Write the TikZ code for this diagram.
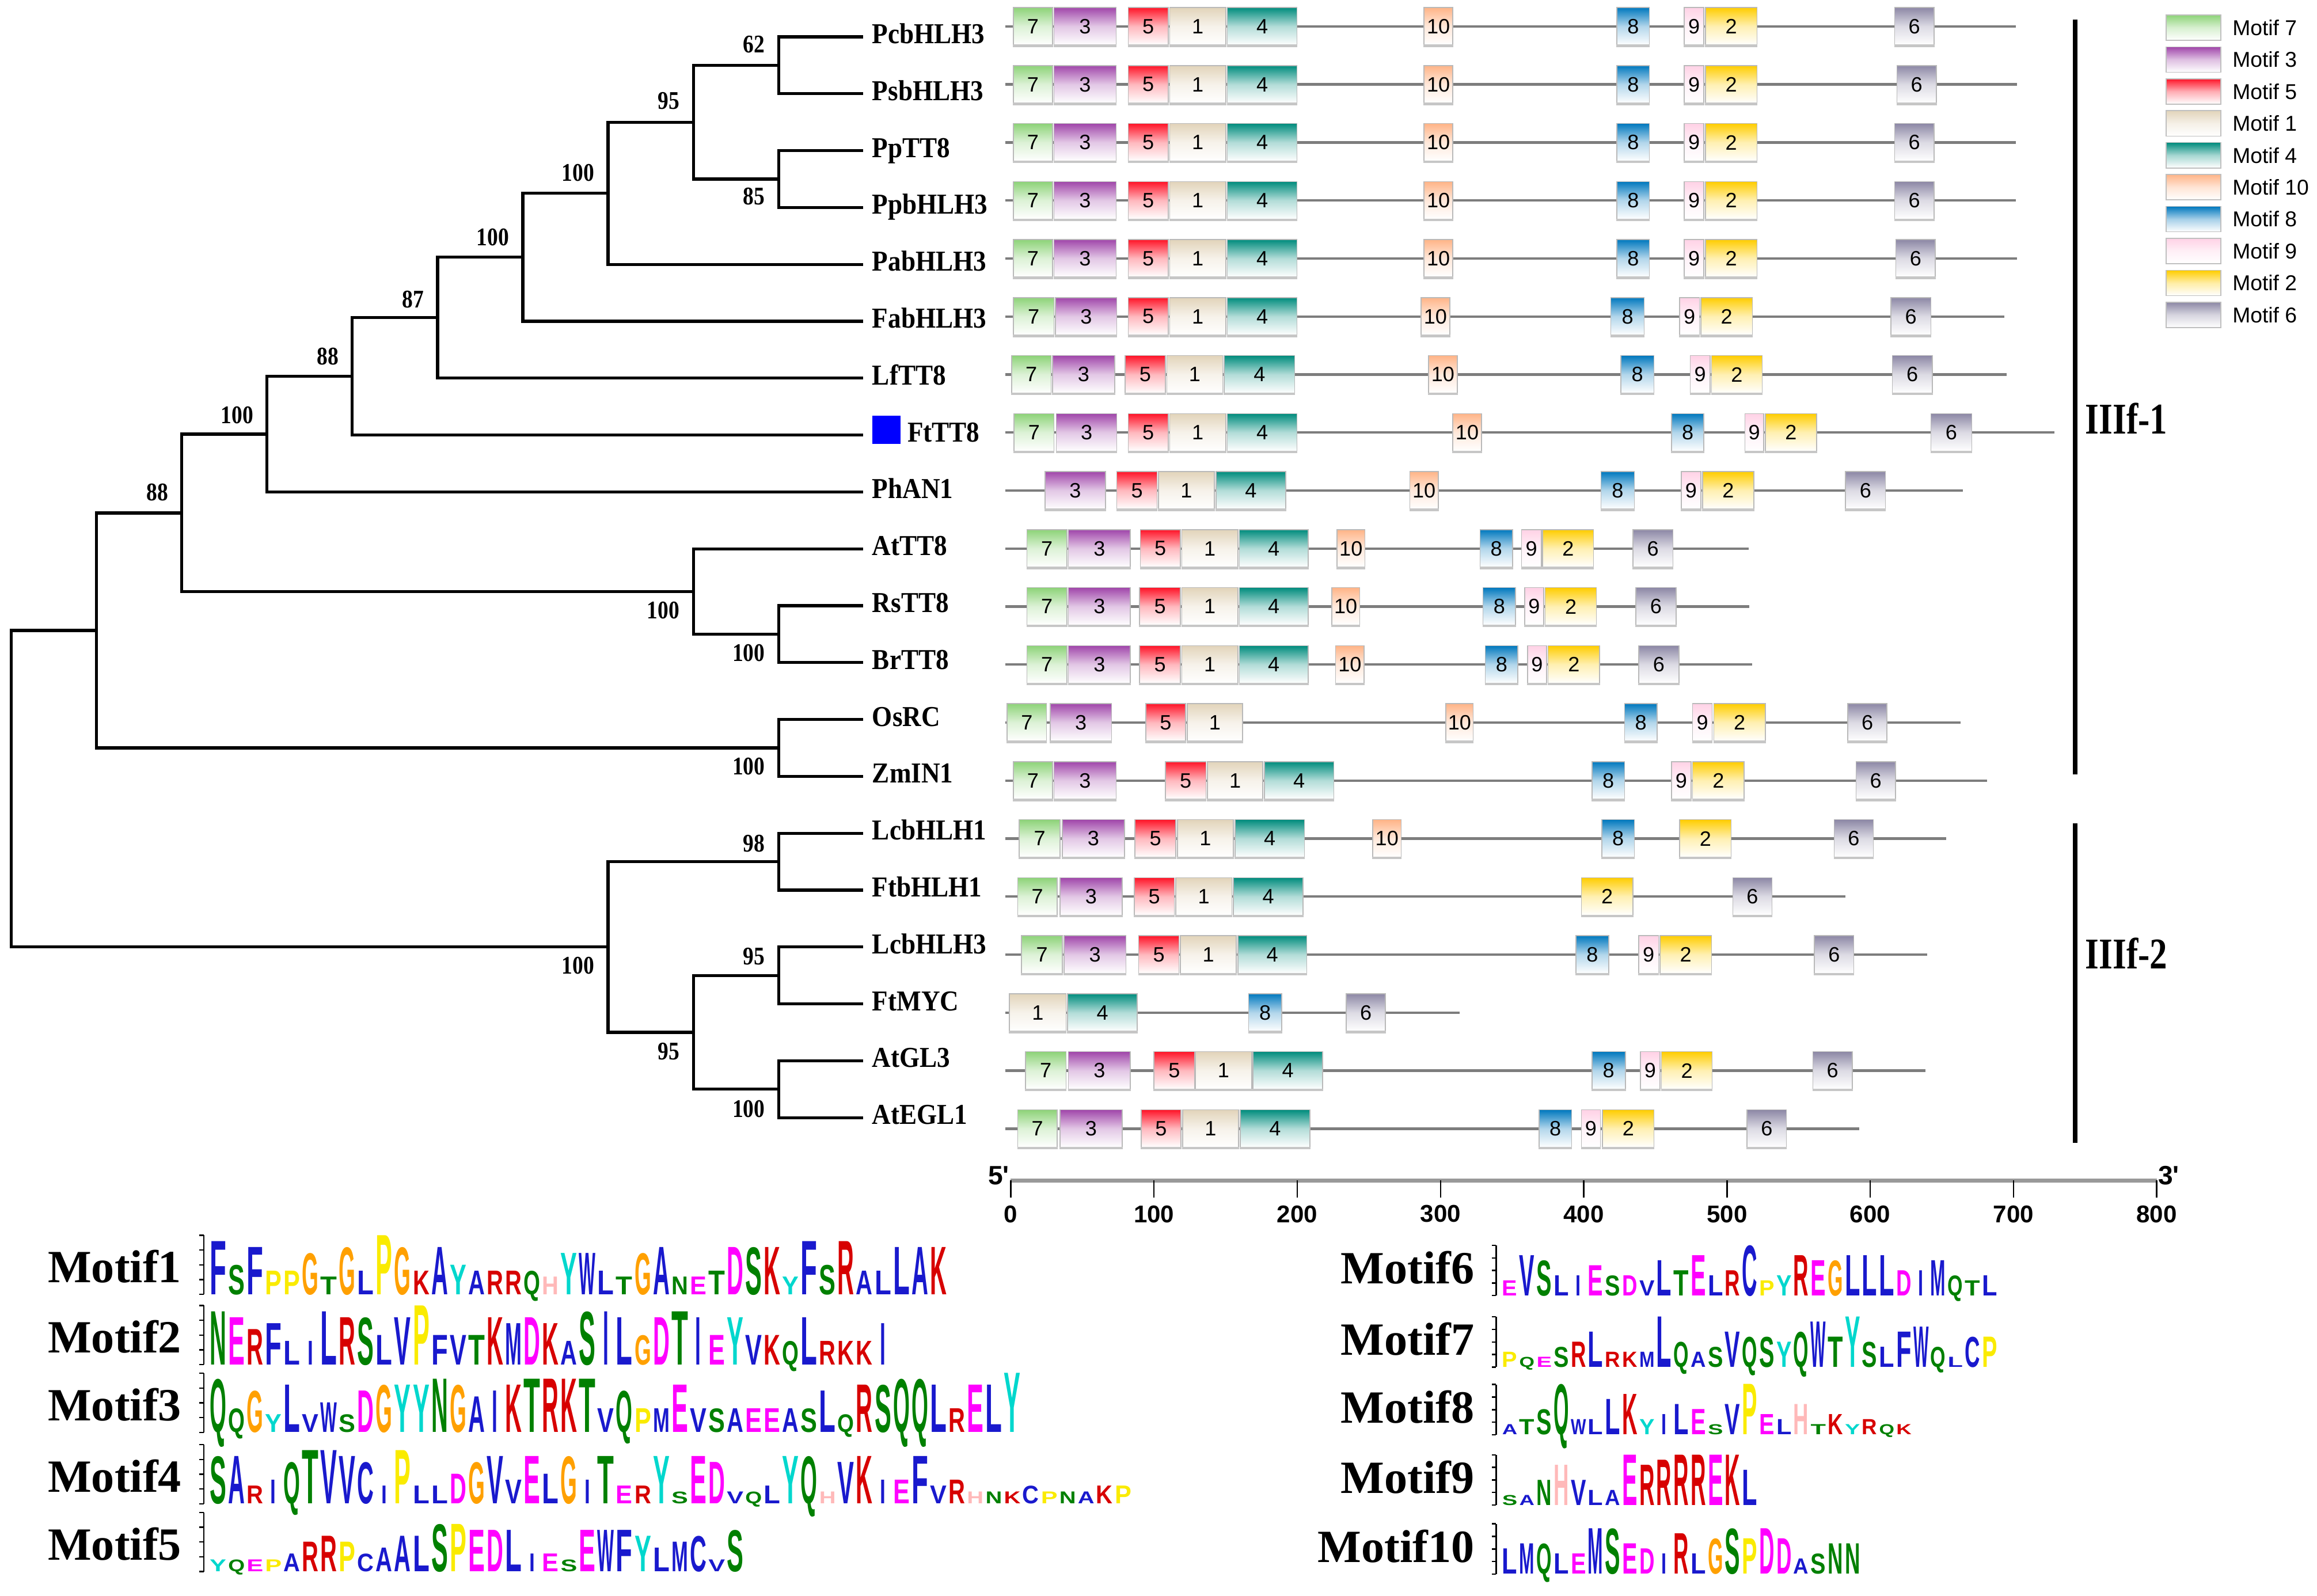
\documentclass[tikz,border=0pt]{standalone}
\usepackage{fontspec}
\setmainfont{Liberation Serif}
\newfontfamily\arialf{Liberation Sans}
\usepackage{graphicx}

% motif colours
\definecolor{mc7}{RGB}{141,211,120}
\definecolor{mc3}{RGB}{160,70,170}
\definecolor{mc5}{RGB}{255,20,40}
\definecolor{mc1}{RGB}{226,212,186}
\definecolor{mc4}{RGB}{0,140,125}
\definecolor{mc10}{RGB}{255,180,135}
\definecolor{mc8}{RGB}{0,120,190}
\definecolor{mc9}{RGB}{255,210,230}
\definecolor{mc2}{RGB}{255,205,0}
\definecolor{mc6}{RGB}{140,135,165}
\definecolor{bbgray}{RGB}{125,125,125}
% logo colours
\definecolor{lgblue}{RGB}{25,25,205}
\definecolor{lggreen}{RGB}{0,128,0}
\definecolor{lgmag}{RGB}{255,0,255}
\definecolor{lgred}{RGB}{215,0,0}
\definecolor{lgpink}{RGB}{255,185,185}
\definecolor{lgorange}{RGB}{255,160,0}
\definecolor{lgyellow}{RGB}{250,235,0}
\definecolor{lgcyan}{RGB}{0,215,205}
\colorlet{aaA}{lgblue}\colorlet{aaC}{lgblue}\colorlet{aaF}{lgblue}\colorlet{aaI}{lgblue}
\colorlet{aaL}{lgblue}\colorlet{aaM}{lgblue}\colorlet{aaV}{lgblue}\colorlet{aaW}{lgblue}
\colorlet{aaN}{lggreen}\colorlet{aaQ}{lggreen}\colorlet{aaS}{lggreen}\colorlet{aaT}{lggreen}
\colorlet{aaD}{lgmag}\colorlet{aaE}{lgmag}
\colorlet{aaK}{lgred}\colorlet{aaR}{lgred}
\colorlet{aaH}{lgpink}\colorlet{aaG}{lgorange}\colorlet{aaP}{lgyellow}\colorlet{aaY}{lgcyan}

\newdimen\lgU \newdimen\lgH \newdimen\lgW \newdimen\lgS \newdimen\lgC
\newcommand\lgletter[2]{\lgH=#2\lgU\ifnum#2=0 \lgH=10\lgU\fi
  \lgC=\lgW\if#1I\lgC=0.34\lgW\fi
  \makebox[\lgW]{\textcolor{aa#1}{\raisebox{0pt}[\lgH][0pt]{\resizebox{\lgC}{\lgH}{\arialf\bfseries #1}}}}\hspace{\lgS}}
\def\lgparse#1#2{\ifx\relax#1\else\lgletter{#1}{#2}\expandafter\lgparse\fi}
\newcommand\lgseq[1]{\lgparse#1\relax\relax}

\newcommand\mtfbox[4]{%
  \pgfmathsetmacro\mbw{(#3-#2)*0.64}%
  \pgfmathsetmacro\mbx{(#2+#3)/2}%
  \pgfmathsetmacro\mby{17.9+39.26*#1}%
  \node[motifbox, top color=mc#4, bottom color=white, middle color=mc#4!30!white,
        minimum width=\mbw pt] (r#1m#4) at (\mbx,\mby) {#4};
  \draw[boxshadow] (r#1m#4.south west) -- (r#1m#4.south east);
}
\newcommand\motifrow[3]{%
  \draw[backbone] (680.5,{17.9+39.26*#1}) coordinate (bs#1) -- (#2,{17.9+39.26*#1}) coordinate (be#1);
  \foreach \xa/\xb/\mm in {#3}{\mtfbox{#1}{\xa}{\xb}{\mm}}
}
\newcommand\lgaxis[4]{%
  \draw[logoaxis] (#2,#3) coordinate (#1a) -- (#2,#3-#4) coordinate (#1b);
  \foreach \k in {0,0.25,0.5,0.75,1} \draw[logoaxis] (#2,#3-#4*\k) -- ++(-3,0);
}

\tikzset{
  treeline/.style={line width=1.3pt, black},
  taxon/.style={anchor=base west, inner sep=0, font=\bfseries\fontsize{12.5}{14}\selectfont},
  boot/.style={anchor=east, inner sep=0, font=\bfseries\fontsize{11}{12}\selectfont},
  motifbox/.style={draw=gray!55, line width=0.4pt, inner sep=0, minimum height=16.4pt,
                   font=\arialf\fontsize{9}{9}\selectfont},
  boxshadow/.style={gray!45, line width=1.1pt},
  backbone/.style={line width=1.1pt, bbgray},
  groupbar/.style={line width=2.1pt, black},
  grouplabel/.style={anchor=west, inner sep=0, font=\bfseries\fontsize{19}{20}\selectfont},
  legbox/.style={draw=gray!50, line width=0.4pt, minimum width=23.7pt, minimum height=11pt, inner sep=0},
  legtext/.style={anchor=west, inner sep=0, font=\arialf\fontsize{9.3}{10}\selectfont},
  axisbar/.style={line width=1.8pt, gray!80},
  axtick/.style={line width=0.6pt, black},
  axlbl/.style={inner sep=0, font=\arialf\bfseries\fontsize{10.5}{11}\selectfont},
  mlabel/.style={anchor=base east, inner sep=0, font=\bfseries\fontsize{20}{22}\selectfont},
  logoL/.style={anchor=base west, inner sep=0, execute at begin node={\lgU=2.56pt\lgW=7.2pt\lgS=0.8pt}},
  logoR/.style={anchor=base west, inner sep=0, execute at begin node={\lgU=2.18pt\lgW=6.6pt\lgS=0.82pt}},
  logoaxis/.style={line width=0.6pt, black},
}

\begin{document}
\begin{tikzpicture}[x=0.64pt, y=-0.64pt]
\useasboundingbox (0,0) rectangle (1568,1080);

% ---------------- tree ----------------
\foreach \n/\i/\lx in {PcbHLH3/0/590, PsbHLH3/1/590, PpTT8/2/590, PpbHLH3/3/590, PabHLH3/4/590,
  FabHLH3/5/590, LfTT8/6/590, FtTT8/7/613.8, PhAN1/8/590, AtTT8/9/590, RsTT8/10/590, BrTT8/11/590,
  OsRC/12/590, ZmIN1/13/590, LcbHLH1/14/590, FtbHLH1/15/590, LcbHLH3/16/590, FtMYC/17/590,
  AtGL3/18/590, AtEGL1/19/590}{
  \coordinate (t\i) at (584,24.9+38.5*\i);
  \node[taxon] (\n) at (\lx,24.9+38.5*\i+4.5) {\scalebox{0.9}[1]{\n}};
}
\node[fill={rgb,255:red,0;green,0;blue,255}, minimum size=12.2pt, inner sep=0] (ftsq) at (600,291) {};

\coordinate (nJ) at (526.9,44.15);
\coordinate (nK) at (526.9,121.15);
\coordinate (nI) at (469.2,82.65);
\coordinate (nH) at (411.5,130.8);
\coordinate (nG) at (353.8,174.1);
\coordinate (nF) at (296.1,215);
\coordinate (nE) at (238.4,254.7);
\coordinate (nD) at (180.7,293.8);
\coordinate (nC) at (123,347.2);
\coordinate (nM) at (526.9,429.15);
\coordinate (nL) at (469.2,400.3);
\coordinate (nN) at (526.9,506.15);
\coordinate (nA) at (65.3,426.7);
\coordinate (nP) at (526.9,583.15);
\coordinate (nR) at (526.9,660.15);
\coordinate (nS) at (526.9,737.15);
\coordinate (nQ) at (469.2,698.65);
\coordinate (nO) at (411.5,640.9);
\coordinate (nRoot) at (7.6,533.8);

\foreach \p/\c in {nJ/t0, nJ/t1, nK/t2, nK/t3, nI/nJ, nI/nK, nH/nI, nH/t4, nG/nH, nG/t5,
  nF/nG, nF/t6, nE/nF, nE/t7, nD/nE, nD/t8, nC/nD, nC/nL, nL/t9, nL/nM, nM/t10, nM/t11,
  nA/nC, nA/nN, nN/t12, nN/t13, nRoot/nA, nRoot/nO, nO/nP, nO/nQ, nP/t14, nP/t15,
  nQ/nR, nQ/nS, nR/t16, nR/t17, nS/t18, nS/t19}
  \draw[treeline] (\p) |- (\c);

\foreach \b/\x/\y/\v in {bJ/517.9/30/62, bK/517.9/133/85, bI/460.2/68.4/95, bH/402.5/116.8/100,
  bG/344.8/160.4/100, bF/287.1/202.6/87, bE/229.4/241.2/88, bD/171.7/281/100, bC/114/333/88,
  bL/460.2/413/100, bM/517.9/441.8/100, bN/517.9/518.8/100, bO/402.5/653.6/100,
  bP/517.9/570.9/98, bR/517.9/647.4/95, bQ/460.2/711.6/95, bS/517.9/750.4/100}
  \node[boot] (\b) at (\x,\y) {\scalebox{0.85}[1]{\v}};

% ---------------- motif rows ----------------
\motifrow{0}{1364}{685.7/712.3/7,713.3/755.3/3,763.5/790.6/5,791.6/829.5/1,830.6/877.7/4,963.7/983.1/10,1094.2/1116.2/8,1139.8/1153.1/9,1154.1/1189/2,1282.1/1308.8/6}
\motifrow{1}{1365}{685.7/712.3/7,713.3/755.3/3,763.5/790.6/5,791.6/829.5/1,830.6/877.7/4,963.7/983.1/10,1094.2/1116.2/8,1139.8/1153.1/9,1154.1/1189/2,1283.7/1310.3/6}
\motifrow{2}{1364}{685.7/712.3/7,713.3/755.3/3,763.5/790.6/5,791.6/829.5/1,830.6/877.7/4,963.7/983.1/10,1094.2/1116.2/8,1139.8/1153.1/9,1154.1/1189/2,1282.1/1308.8/6}
\motifrow{3}{1364}{685.7/712.3/7,713.3/755.3/3,763.5/790.6/5,791.6/829.5/1,830.6/877.7/4,963.7/983.1/10,1094.2/1116.2/8,1139.8/1153.1/9,1154.1/1189/2,1282.1/1308.8/6}
\motifrow{4}{1365}{685.7/712.3/7,713.3/755.3/3,763.5/790.6/5,791.6/829.5/1,830.6/877.7/4,963.7/983.1/10,1094.2/1116.2/8,1139.8/1153.1/9,1154.1/1189/2,1283/1309.7/6}
\motifrow{5}{1356.4}{685.7/713.3/7,714.3/755.8/3,763.5/790.6/5,791.6/829.5/1,830.6/877.7/4,961.6/981.1/10,1090.1/1112.7/8,1136.7/1150/9,1151/1185.9/2,1279.6/1306.7/6}
\motifrow{6}{1357.9}{684.6/711.3/7,712.3/754.3/3,761.4/788.6/5,789.6/827.5/1,828.5/876.1/4,966.7/986.2/10,1096.8/1119.3/8,1143.9/1157.2/9,1158.2/1192.5/2,1280.6/1307.7/6}
\motifrow{7}{1390.2}{686.2/713.3/7,714.8/755.8/3,763.5/790.6/5,791.6/829.5/1,830.6/877.7/4,983.1/1002.6/10,1131.1/1153.1/8,1180.8/1193.6/9,1194.6/1229.4/2,1306.7/1334.4/6}
\motifrow{8}{1328.2}{707.2/748.1/3,755.8/783/5,784/821.8/1,822.9/870/4,954/973.4/10,1083.5/1106/8,1137.8/1151/9,1152.1/1186.9/2,1248.9/1276/6}
\motifrow{9}{1183.3}{694.9/722/7,723/765/3,771.7/798.8/5,799.8/837.7/1,838.7/885.3/4,904.8/923.7/10,1001.6/1023.6/8,1029.7/1043/9,1044/1078.4/2,1105/1132.1/6}
\motifrow{10}{1183.8}{694.9/722/7,723/765/3,771.2/798.8/5,799.8/837.7/1,838.7/885.3/4,901.2/920.2/10,1003.6/1025.6/8,1031.8/1044.6/9,1045.6/1080.4/2,1107/1134.2/6}
\motifrow{11}{1185.9}{694.9/722/7,723/765/3,771.2/798.8/5,799.8/837.7/1,838.7/885.3/4,903.8/923.2/10,1005.1/1027.2/8,1033.8/1046.6/9,1047.6/1082.5/2,1109/1136.2/6}
\motifrow{12}{1326.7}{681.6/708.2/7,710.7/752.2/3,775.3/802.4/5,803.4/840.8/1,978.5/997/10,1099.4/1121.4/8,1145.4/1158.7/9,1159.8/1194.6/2,1250.4/1277/6}
\motifrow{13}{1344.6}{685.7/712.3/7,713.3/755.3/3,788.6/816.2/5,817.2/854.6/1,855.6/902.7/4,1077.3/1099.4/8,1131.1/1144.4/9,1145.4/1180.3/2,1256/1282.7/6}
\motifrow{14}{1317}{689.8/717.4/7,718.9/760.9/3,768.1/795.7/5,796.8/834.6/1,835.7/882.8/4,928.9/948.3/10,1084/1106/8,1136.7/1171.5/2,1241.2/1267.8/6}
\motifrow{15}{1248.9}{688.7/715.4/7,717.4/759.4/3,767.6/794.7/5,795.7/833.6/1,834.7/881.8/4,1070.2/1105/2,1172.6/1199.2/6}
\motifrow{16}{1304.2}{691.3/718.9/7,720/762/3,770.6/797.8/5,798.8/836.7/1,837.7/884.3/4,1066.6/1088.6/8,1109/1122.4/9,1123.4/1158.2/2,1227.9/1254.5/6}
\motifrow{17}{987.7}{683.1/721.5/1,722.5/769.6/4,844.9/867.4/8,911/937.6/6}
\motifrow{18}{1303.1}{693.9/721.5/7,723/765/3,780.9/808.5/5,809/847/1,848/895.1/4,1077.3/1099.9/8,1110.1/1123.4/9,1124.4/1158.7/2,1226.8/1253.5/6}
\motifrow{19}{1258.1}{688.7/715.4/7,717.4/759.4/3,772.2/799.3/5,800.3/838.2/1,839.3/886.4/4,1041.5/1063.5/8,1070.2/1083/9,1084.5/1119.3/2,1182.3/1208.9/6}

% ---------------- group bars ----------------
\draw[groupbar] (1404.3,13.1) coordinate (g1t) -- (1404.3,524.2) coordinate (g1b);
\draw[groupbar] (1404.3,557.3) coordinate (g2t) -- (1404.3,773.6) coordinate (g2b);
\node[grouplabel] (g1) at (1411,283) {\scalebox{0.8}[1]{IIIf-1}};
\node[grouplabel] (g2) at (1411,645.3) {\scalebox{0.8}[1]{IIIf-2}};

% ---------------- legend ----------------
\foreach \m [count=\j from 0] in {7,3,5,1,4,10,8,9,2,6}{
  \node[legbox, top color=mc\m, bottom color=white, middle color=mc\m!35!white] (leg\m) at (1484.5,{18.7+21.6*\j}) {};
  \node[legtext] (legt\m) at (1510.5,{18.7+21.6*\j}) {Motif \m};
}

% ---------------- axis ----------------
\coordinate (ax0) at (684,798.9);
\coordinate (ax8) at (1459.5,798.9);
\draw[axisbar] (ax0) -- (ax8);
\foreach \k/\lab in {0/0,1/100,2/200,3/300,4/400,5/500,6/600,7/700,8/800}{
  \draw[axtick] (684+96.94*\k,798.9) -- ++(0,11.7);
  \node[axlbl] (axl\k) at (684+96.94*\k,821.6) {\lab};
}
\node[axlbl, font=\arialf\bfseries\fontsize{11.5}{12}\selectfont] (five) at (675.8,795.7) {5'};
\node[axlbl, font=\arialf\bfseries\fontsize{11.5}{12}\selectfont] (three) at (1467.6,795.7) {3'};

% ---------------- sequence logos ----------------
\node[mlabel] (ml1) at (123,868) {Motif1};
\node[mlabel] (ml2) at (123,915.5) {Motif2};
\node[mlabel] (ml3) at (123,961.4) {Motif3};
\node[mlabel] (ml4) at (123,1009.7) {Motif4};
\node[mlabel] (ml5) at (123,1055.6) {Motif5};
\node[mlabel] (ml6) at (998,868.8) {Motif6};
\node[mlabel] (ml7) at (998,917.2) {Motif7};
\node[mlabel] (ml8) at (998,963) {Motif8};
\node[mlabel] (ml9) at (998,1010.6) {Motif9};
\node[mlabel] (ml10) at (998,1057.3) {Motif10};

\lgaxis{la1}{138}{876}{40}
\lgaxis{la2}{138}{923.5}{40}
\lgaxis{la3}{138}{969.4}{40}
\lgaxis{la4}{138}{1017.7}{40}
\lgaxis{la5}{138}{1063.6}{40}
\lgaxis{la6}{1012.5}{876.8}{34}
\lgaxis{la7}{1012.5}{925.2}{34}
\lgaxis{la8}{1012.5}{971}{34}
\lgaxis{la9}{1012.5}{1018.6}{34}
\lgaxis{la10}{1012.5}{1065.3}{34}

\node[logoL] (lg1) at (141.6,876) {\lgseq{F9S5F8P4P4G7T3G8L4P0G8K4A8Y5A4R4R4Q4H3Y7W7L4T3G7A8N3E3T4D8S8K8Y3F9S5R9A4L4L8A8K8}};
\node[logoL] (lg2) at (141.6,923.5) {\lgseq{N9E8R6F7L4I4L9R8S8L5V8P0F5V5T5K8M7D8K7A4S9I9L8G5D8T9I8E5Y8V5K5Q4L8R4K4K4I7}};
\node[logoL] (lg3) at (141.6,969.4) {\lgseq{Q9Q4G7Y3L8V3W5S3D7G8Y8Y8N9G8A6I7K8T9R9K9T9V4Q7P4M4E8V4S4A4E4E4A4S4L7Q3R8S8Q9Q9L8R4E8L8Y0}};
\node[logoL] (lg4) at (141.6,1017.7) {\lgseq{S8A8R3I4Q7T9V9V8C7I3P9L3L3D5G7V8V4E8L5G8I4T8E3R3Y8S2E8D7V2Q2L3Y8Q8H2V7K8I4E4F8V3R4H2N2K2C3P2N2A2K3P3}};
\node[logoL] (lg5) at (141.6,1063.6) {\lgseq{Y2Q2E2P2A3R5R6P5C3A4A6L6S8P8E7D7L7I3E3S2E7W7F7Y6L4M5C6V2S7}};
\node[logoR] (lg6) at (1016.3,876.8) {\lgseq{E3V8S7L4I4E6S4D4V3L7T5E8L4R5C0P3Y4R8E7G7L8L8L8D5I5M7Q4T3L4}};
\node[logoR] (lg7) at (1016.3,925.2) {\lgseq{P3Q2E2S4R5L7R3K3M3L0Q5A3S4V7Q6S6Y5Q7W9T6Y0S5L4F7W8Q4L2C6P6}};
\node[logoR] (lg8) at (1016.3,971) {\lgseq{A2T3S5Q0W3L3L7K8Y3I4L6E5S2V6P0E4L3H6T2K4Y2R3Q2K2}};
\node[logoR] (lg9) at (1016.3,1018.6) {\lgseq{S2A2N5H8V5L3A3E0R8R9R0R0E0K0L7}};
\node[logoR] (lg10) at (1016.3,1065.3) {\lgseq{L5M6Q6L4E4M9S9E6D5I4R8L4G7S9P7D9D7A3S4N6N6}};

\end{tikzpicture}
\end{document}
